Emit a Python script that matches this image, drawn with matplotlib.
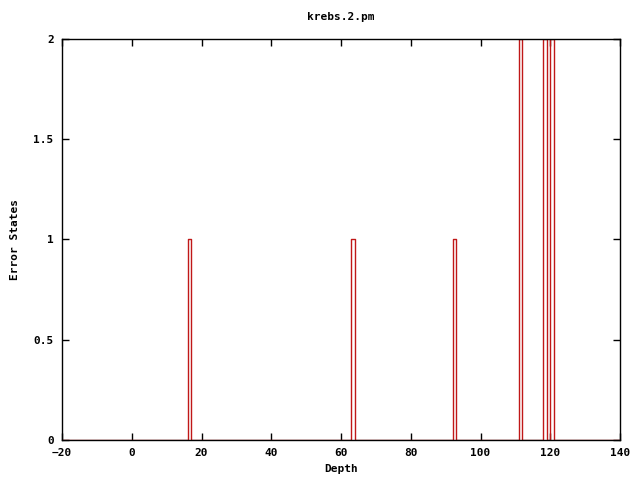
import matplotlib
matplotlib.use('Agg')
import matplotlib.pyplot as plt
from matplotlib.ticker import FuncFormatter

# step change points (depth, error state)
depth = [-20, 16, 17, 63, 64, 92, 93, 111, 112, 118, 119, 120, 121, 140]
errors = [0, 1, 0, 1, 0, 1, 0, 2, 0, 2, 0, 2, 0, 0]

x_ticks = [-20, 0, 20, 40, 60, 80, 100, 120, 140]
y_ticks = [0, 0.5, 1, 1.5, 2]

plt.rcParams['font.family'] = ['DejaVu Sans Mono']
plt.rcParams['font.weight'] = 'bold'
plt.rcParams['font.size'] = 8

fig = plt.figure(figsize=(6.4, 4.8), dpi=100)
ax = fig.add_axes([62/640, 1 - 440/480, 558/640, 401/480])

ax.step(depth, errors, where='post', color='#c01818', linewidth=1)

ax.set_xlim(-20, 140)
ax.set_ylim(0, 2)
ax.set_xticks(x_ticks)
ax.set_yticks(y_ticks)
ax.yaxis.set_major_formatter(FuncFormatter(lambda v, p: f'{v:g}'))
ax.tick_params(direction='in', length=5, width=1, top=True, right=True, pad=6)
for s in ax.spines.values():
    s.set_linewidth(1)

ax.set_title('krebs.2.pm', fontsize=8, fontweight='bold', pad=14)
ax.set_xlabel('Depth', fontsize=8, fontweight='bold', labelpad=4)
ax.set_ylabel('Error States', fontsize=8, fontweight='bold', labelpad=10)

plt.savefig('out.png', dpi=100)
plt.close(fig)
